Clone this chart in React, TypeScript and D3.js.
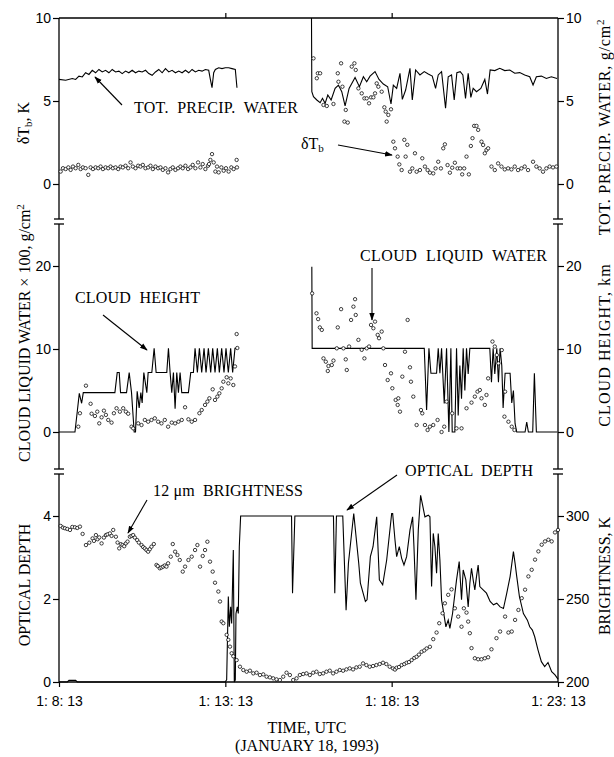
import { useEffect, useRef } from "react";
import * as d3 from "d3";

type P = [number, number];

// time is minutes after 1:08:13 UTC
const timeTicks = [0, 5, 10, 15];
const timeLabels = ["1: 8: 13", "1: 13: 13", "1: 18: 13", "1: 23: 13"];

const topTicks = [0, 5, 10];
const midTicks = [0, 10, 20];
const odTicks = [0, 2, 4];
const tbTicks = [200, 250, 300];

// total precipitable water, g/cm^2 (line, top panel)
const tpwLeft: P[] = [
  [0, 6.3], [0.2, 6.25], [0.4, 6.35], [0.5, 6.3], [0.6, 6.5], [0.7, 6.45], [0.8, 6.7], [0.9, 6.6],
  [1.0, 6.85], [1.1, 6.7], [1.2, 6.9], [1.3, 6.75], [1.4, 6.85], [1.5, 6.7], [1.6, 6.9], [1.7, 6.75],
  [1.8, 6.8], [1.9, 6.65], [2.0, 6.8], [2.1, 6.7], [2.2, 6.85], [2.3, 6.7], [2.4, 6.8], [2.5, 6.75],
  [2.6, 6.85], [2.7, 6.65], [2.8, 6.55], [2.9, 6.75], [3.0, 6.9], [3.1, 6.7], [3.2, 6.95], [3.3, 6.75],
  [3.4, 6.85], [3.5, 6.7], [3.6, 6.8], [3.7, 6.7], [3.8, 6.85], [3.9, 6.7], [4.0, 6.9], [4.1, 6.75],
  [4.2, 6.85], [4.3, 6.8], [4.4, 6.9], [4.5, 6.85], [4.55, 6.3], [4.6, 5.8], [4.65, 6.7], [4.7, 6.9],
  [4.8, 7.0], [4.9, 6.95], [5.0, 7.0], [5.1, 7.0], [5.2, 6.95], [5.3, 6.9], [5.35, 5.8],
];
const tpwRight: P[] = [
  [7.59, 10], [7.6, 5.56], [7.65, 5.26], [7.75, 5.06], [7.85, 4.9], [7.92, 5.16], [8.0, 4.86], [8.08, 5.36],
  [8.18, 5.06], [8.3, 5.76], [8.4, 5.96], [8.5, 5.56], [8.6, 4.7], [8.72, 5.76], [8.9, 6.42], [9.03, 5.86],
  [9.15, 6.46], [9.25, 6.16], [9.35, 6.5], [9.5, 6.77], [9.62, 6.3], [9.75, 6.02], [9.88, 5.86], [9.98, 4.82],
  [10.05, 5.96], [10.15, 5.76], [10.25, 6.67], [10.32, 5.1], [10.42, 5.66], [10.55, 6.97], [10.62, 5.06],
  [10.72, 6.87], [10.85, 6.57], [10.98, 6.77], [11.1, 6.63], [11.22, 6.5], [11.32, 5.76], [11.4, 6.57],
  [11.5, 6.77], [11.62, 4.56], [11.7, 6.46], [11.8, 6.57], [11.88, 5.06], [11.96, 6.71], [12.06, 6.77],
  [12.14, 6.57], [12.22, 5.16], [12.3, 6.67], [12.38, 5.22], [12.45, 5.76], [12.55, 5.56], [12.68, 5.76],
  [12.8, 6.3], [12.88, 5.42], [12.96, 6.87], [13.1, 6.83], [13.25, 6.97], [13.4, 6.83], [13.55, 6.87],
  [13.7, 6.67], [13.85, 6.71], [14.0, 6.57], [14.15, 6.46], [14.25, 5.96], [14.35, 6.46], [14.5, 6.5],
  [14.65, 6.36], [14.8, 6.46], [14.97, 6.36],
];

// delta Tb, K (circles, top panel)
const dtbLeft: P[] = [
  [0.05, 0.75], [0.12, 0.95], [0.2, 0.9], [0.28, 1.0], [0.35, 0.85], [0.42, 1.05], [0.5, 0.95], [0.58, 1.15],
  [0.65, 0.9], [0.72, 1.0], [0.8, 0.95], [0.88, 0.55], [0.95, 1.0], [1.02, 0.9], [1.1, 1.0], [1.18, 0.95],
  [1.25, 1.05], [1.32, 0.9], [1.4, 1.0], [1.48, 0.95], [1.55, 1.05], [1.62, 0.95], [1.7, 1.0], [1.78, 0.9],
  [1.85, 1.05], [1.92, 1.0], [2.0, 1.1], [2.08, 0.95], [2.15, 1.3], [2.22, 1.05], [2.3, 0.95], [2.38, 1.1],
  [2.45, 1.05], [2.52, 1.15], [2.6, 0.95], [2.68, 1.0], [2.75, 1.1], [2.82, 0.9], [2.9, 1.05], [2.98, 0.95],
  [3.05, 1.0], [3.12, 0.85], [3.2, 0.95], [3.28, 0.7], [3.35, 0.9], [3.42, 1.0], [3.5, 0.85], [3.58, 0.95],
  [3.65, 1.05], [3.72, 0.95], [3.8, 1.1], [3.88, 0.9], [3.95, 1.0], [4.02, 1.15], [4.1, 0.95], [4.18, 1.3],
  [4.25, 1.0], [4.32, 1.2], [4.4, 0.9], [4.48, 1.1], [4.51, 1.2], [4.55, 1.45], [4.6, 1.8], [4.65, 1.3],
  [4.7, 0.75], [4.75, 1.05], [4.8, 0.7], [4.88, 1.0], [4.95, 0.8], [5.02, 0.95], [5.1, 0.75], [5.18, 1.0],
  [5.25, 0.9], [5.34, 1.45], [5.35, 1.0],
];
const dtbRight: P[] = [
  [7.65, 7.57], [7.75, 6.37], [7.78, 6.67], [7.85, 6.67], [7.95, 4.76], [8.05, 4.7], [8.25, 4.82], [8.38, 6.67],
  [8.4, 6.16], [8.48, 7.27], [8.52, 5.86], [8.58, 3.76], [8.62, 4.46], [8.68, 3.7], [8.8, 7.07], [8.88, 7.27],
  [8.92, 6.87], [9.0, 5.76], [9.1, 5.46], [9.18, 5.16], [9.25, 5.16], [9.32, 4.86], [9.38, 5.22], [9.45, 5.22],
  [9.5, 5.46], [9.55, 6.06], [9.6, 5.86], [9.7, 5.56], [9.78, 4.62], [9.82, 4.36], [9.85, 3.76], [9.9, 4.16],
  [9.98, 4.5], [10.05, 2.55], [10.1, 2.15], [10.18, 1.65], [10.23, 1.18], [10.3, 0.84], [10.38, 2.66],
  [10.42, 1.65], [10.47, 2.36], [10.55, 0.74], [10.62, 0.94], [10.7, 1.85], [10.75, 0.74], [10.85, 0.84],
  [10.92, 1.55], [11.0, 1.05], [11.08, 0.84], [11.15, 0.68], [11.25, 0.64], [11.32, 0.94], [11.4, 1.34],
  [11.48, 0.94], [11.55, 2.15], [11.6, 2.39], [11.68, 1.14], [11.75, 0.68], [11.82, 0.98], [11.9, 1.28],
  [11.98, 0.94], [12.06, 0.94], [12.12, 0.58], [12.18, 0.94], [12.25, 1.65], [12.32, 0.58], [12.38, 2.29],
  [12.43, 2.76], [12.48, 3.5], [12.55, 3.5], [12.6, 3.26], [12.7, 2.55], [12.75, 2.35], [12.8, 1.85],
  [12.85, 2.05], [12.9, 2.15], [13.0, 1.05], [13.1, 0.84], [13.2, 1.24], [13.3, 1.05], [13.4, 0.88],
  [13.5, 0.94], [13.6, 0.88], [13.7, 1.05], [13.8, 0.84], [13.9, 0.94], [14.0, 1.05], [14.1, 0.84],
  [14.25, 1.34], [14.35, 1.05], [14.45, 0.94], [14.55, 0.74], [14.65, 0.94], [14.75, 1.05], [14.85, 1.0],
  [14.95, 1.05],
];

// cloud height, km (line, middle panel)
const heightLeft: P[] = [
  [0, 0], [0.48, 0], [0.55, 2.5], [0.61, 4.66], [0.68, 3.46], [0.73, 4.74], [1.68, 4.74], [1.75, 7.16],
  [1.81, 7.16], [1.85, 4.74], [2.03, 4.74], [2.11, 7.16], [2.18, 4.74], [2.26, 0], [2.3, 0], [2.35, 4.9],
  [2.41, 2.9], [2.46, 4.74], [2.5, 3.5], [2.55, 7.16], [2.64, 4.74], [2.68, 7.16], [2.79, 7.16], [2.86, 10.08],
  [2.92, 7.16], [3.24, 7.16], [3.29, 10.08], [3.34, 7.16], [3.39, 4.74], [3.44, 7.16], [3.49, 2.8], [3.54, 7.16],
  [3.59, 4.74], [3.64, 7.16], [3.69, 4.74], [3.89, 4.74], [3.96, 7.16], [4.04, 7.16], [4.09, 10.08], [4.16, 7.16],
  [4.22, 10.08], [4.29, 7.16], [4.36, 10.08], [4.42, 7.16], [4.49, 10.08], [4.56, 7.16], [4.62, 10.08],
  [4.69, 7.16], [4.76, 10.08], [4.82, 7.16], [4.89, 10.08], [4.96, 7.16], [5.02, 10.08], [5.09, 7.16],
  [5.16, 10.08], [5.22, 7.16], [5.29, 10.08], [5.36, 10.08],
];
const heightRight: P[] = [
  [7.6, 19.9], [7.61, 10.08], [10.98, 10.08], [11.05, 2.65], [11.12, 10.08], [11.18, 7.07], [11.35, 7.07],
  [11.4, 10.08], [11.45, 7.07], [11.5, 10.08], [11.58, 3.45], [11.65, 10.08], [11.72, 0], [11.78, 10.08],
  [11.82, 0], [11.9, 0], [11.95, 10.08], [12.0, 2], [12.05, 8], [12.1, 4], [12.15, 10.08], [12.2, 5],
  [12.25, 10.08], [12.3, 7], [12.35, 10.08], [12.95, 10.08], [13.0, 6], [13.05, 10.08], [13.1, 7],
  [13.16, 10.08], [13.21, 6], [13.26, 10.08], [13.31, 8], [13.35, 2.9], [13.41, 7.07], [13.56, 7.07],
  [13.61, 3.5], [13.66, 5], [13.71, 1], [13.76, 0], [14.01, 0], [14.06, 1.2], [14.11, 0], [14.24, 0],
  [14.29, 7.07], [14.35, 0], [14.98, 0],
];

// cloud liquid water x 100, g/cm^2 (circles, middle panel)
const clwLeft: P[] = [
  [0.58, 0.64], [0.63, 2.26], [0.81, 5.58], [0.95, 3.4], [0.98, 2.2], [1.08, 1.93], [1.15, 2.45], [1.21, 1.04],
  [1.28, 1.77], [1.35, 2.57], [1.41, 2.06], [1.48, 1.45], [1.58, 1.13], [1.65, 2.26], [1.73, 2.86], [1.83, 2.45],
  [1.93, 2.86], [2.01, 2.45], [2.08, 2.2], [2.18, 0.64], [2.23, 0.44], [2.38, 1.04], [2.48, 0.84], [2.58, 1.45],
  [2.68, 1.24], [2.78, 1.45], [2.88, 1.65], [2.98, 1.24], [3.08, 1.04], [3.18, 1.45], [3.28, 0.64], [3.39, 1.13],
  [3.49, 1.04], [3.59, 1.24], [3.69, 1.45], [3.79, 2.98], [3.89, 1.53], [3.99, 1.24], [4.09, 1.45], [4.22, 2.26],
  [4.29, 2.65], [4.39, 3.26], [4.46, 3.66], [4.52, 4.06], [4.62, 5.14], [4.69, 3.86], [4.76, 4.26], [4.82, 4.66],
  [4.89, 5.26], [4.94, 6.06], [5.04, 6.59], [5.09, 5.86], [5.16, 6.46], [5.24, 5.66], [5.29, 7.9], [5.34, 11.8],
  [5.36, 10.12],
];
const clwRight: P[] = [
  [7.61, 16.7], [7.74, 14.3], [7.79, 13.6], [7.84, 12.6], [7.9, 12.3], [7.95, 8.87], [8.02, 8.47], [8.08, 7.35],
  [8.1, 7.95], [8.2, 8.07], [8.25, 8.6], [8.35, 10.08], [8.38, 12.6], [8.48, 14.8], [8.55, 10.08], [8.62, 8.75],
  [8.65, 7.47], [8.72, 10.3], [8.78, 13.5], [8.85, 15.1], [8.9, 16.0], [8.92, 14.1], [9.0, 11.1], [9.1, 9.9],
  [9.18, 8.87], [9.25, 10.08], [9.32, 10.3], [9.38, 12.9], [9.45, 12.5], [9.5, 13.3], [9.58, 11.7], [9.62, 11.3],
  [9.7, 12.1], [9.75, 10.08], [9.8, 8.07], [9.88, 6.26], [9.98, 7.07], [10.02, 5.27], [10.12, 3.86], [10.18, 3.26],
  [10.2, 4.06], [10.25, 2.45], [10.32, 6.67], [10.4, 9.67], [10.48, 13.5], [10.55, 7.79], [10.58, 6.06],
  [10.65, 4.26], [10.75, 0.84], [10.88, 2.65], [10.92, 2.25], [11.0, 0.84], [11.08, 0.24], [11.15, 0.64],
  [11.25, 0.84], [11.38, 1.45], [11.5, 0.0], [11.58, 0.64], [11.65, 3.66], [11.82, 2.25], [11.95, 0.44],
  [12.1, 0.44], [12.25, 2.86], [12.4, 3.54], [12.5, 4.26], [12.58, 4.86], [12.65, 5.06], [12.7, 4.06],
  [12.8, 3.26], [12.85, 4.46], [12.9, 6.46], [13.03, 10.9], [13.1, 10.3], [13.16, 9.27], [13.21, 8.27],
  [13.31, 9.87], [13.39, 1.85], [13.41, 4.86], [13.51, 1.24], [13.61, 0.64], [13.69, 0.24],
];

// optical depth (line, bottom panel)
const opticalDepth: P[] = [
  [0, 0], [0.25, 0], [0.3, 0.04], [0.5, 0.04], [0.55, 0], [4.99, 0], [5.04, 0.05], [5.09, 2.06], [5.12, 1.33],
  [5.16, 1.81], [5.19, 1.41], [5.22, 2.46], [5.24, 3.18], [5.27, 0], [5.3, 0.05], [5.32, 1.65], [5.36, 1.81],
  [5.39, 1.65], [5.42, 3.26], [5.46, 4.0], [6.99, 4.0], [7.02, 2.14], [7.09, 4.0], [8.25, 4.0], [8.29, 2.14],
  [8.34, 4.0], [8.53, 4.0], [8.63, 1.73], [8.7, 2.86], [8.86, 4.06], [9.01, 2.86], [9.06, 2.38], [9.21, 1.94],
  [9.26, 1.98], [9.36, 3.02], [9.44, 3.26], [9.55, 3.98], [9.63, 2.46], [9.73, 2.34], [9.85, 2.94], [10.0, 4.06],
  [10.03, 4.06], [10.1, 3.42], [10.15, 3.02], [10.23, 3.26], [10.3, 2.98], [10.37, 2.82], [10.45, 3.02],
  [10.55, 3.66], [10.63, 3.98], [10.67, 3.26], [10.73, 1.98], [10.8, 3.66], [10.87, 4.5], [10.93, 4.26],
  [11.0, 3.98], [11.1, 4.02], [11.15, 3.98], [11.2, 2.3], [11.25, 3.58], [11.3, 3.26], [11.35, 2.62],
  [11.4, 3.58], [11.45, 2.94], [11.5, 1.98], [11.55, 1.73], [11.63, 1.33], [11.7, 1.49], [11.75, 1.29],
  [11.83, 1.65], [11.95, 2.46], [12.03, 2.9], [12.1, 1.98], [12.15, 2.7], [12.23, 2.46], [12.3, 1.81],
  [12.35, 2.38], [12.4, 2.74], [12.45, 2.46], [12.5, 2.22], [12.55, 2.54], [12.6, 2.82], [12.65, 2.3],
  [12.75, 2.22], [12.85, 2.14], [12.96, 1.94], [13.06, 1.86], [13.16, 1.9], [13.26, 1.81], [13.36, 1.77],
  [13.46, 2.14], [13.56, 2.54], [13.66, 3.14], [13.71, 2.86], [13.76, 2.54], [13.84, 2.06], [13.96, 1.65],
  [14.08, 1.49], [14.15, 1.33], [14.23, 1.25], [14.3, 1.09], [14.4, 0.77], [14.5, 0.49], [14.6, 0.37],
  [14.7, 0.47], [14.81, 0.25], [14.91, 0.17], [15.0, 0.07],
];

// 12 um brightness temperature, K (circles, bottom panel)
const brightness: P[] = [
  [0.05, 294], [0.12, 293], [0.18, 292.6], [0.25, 292.2], [0.33, 291.6], [0.4, 293.4], [0.48, 293.2],
  [0.55, 292.8], [0.63, 293.6], [0.71, 289.2], [0.81, 282.5], [0.91, 283.9], [1.01, 286.5], [1.05, 285],
  [1.11, 288.5], [1.16, 286], [1.21, 287.1], [1.28, 283.5], [1.35, 287], [1.41, 288.5], [1.46, 289],
  [1.53, 289.5], [1.58, 288], [1.63, 291.6], [1.71, 287.5], [1.76, 284], [1.81, 280.5], [1.86, 283],
  [1.91, 282.5], [1.96, 281.8], [2.01, 283.5], [2.06, 284.6], [2.13, 287.5], [2.18, 288], [2.23, 288.5],
  [2.28, 287], [2.35, 285.5], [2.4, 284], [2.48, 282.5], [2.53, 281.3], [2.58, 280.5], [2.63, 279.5],
  [2.68, 278.5], [2.73, 280], [2.78, 281.5], [2.85, 283.1], [2.93, 270.5], [2.97, 269.8], [3.03, 268.5],
  [3.08, 269], [3.13, 269.5], [3.18, 270.2], [3.23, 269.5], [3.28, 271.5], [3.36, 275.5], [3.42, 283.1],
  [3.49, 278.5], [3.56, 276.5], [3.63, 273.5], [3.72, 266.5], [3.79, 269.5], [3.89, 273.5], [3.99, 275.5],
  [4.09, 279.5], [4.16, 282.5], [4.24, 269.5], [4.32, 275.9], [4.39, 279.5], [4.46, 284.5], [4.54, 272.5],
  [4.62, 266.5], [4.69, 259.8], [4.79, 254.5], [4.84, 248.5], [4.89, 236.4], [4.94, 235.4], [5.04, 228.4],
  [5.09, 225.4], [5.14, 221.3], [5.19, 217.3], [5.24, 215.5], [5.34, 213.2], [5.44, 209.2], [5.54, 207.2],
  [5.64, 206.2], [5.74, 206.8], [5.84, 205.2], [5.94, 205.6], [6.04, 204.2], [6.14, 204.6], [6.24, 203.2],
  [6.34, 202.8], [6.44, 202.2], [6.54, 201.6], [6.64, 201.2], [6.74, 203.2], [6.84, 205.6], [6.94, 204.2],
  [7.04, 201.2], [7.14, 202.2], [7.24, 204.2], [7.34, 204.8], [7.44, 205.2], [7.54, 204.2], [7.64, 205.6],
  [7.74, 206.2], [7.84, 204.8], [7.94, 205.2], [8.04, 206.2], [8.14, 206.8], [8.24, 205.2], [8.34, 206.2],
  [8.44, 207.2], [8.54, 206.8], [8.64, 207.6], [8.74, 208.2], [8.84, 207.6], [8.94, 208.8], [9.04, 209.2],
  [9.14, 211.2], [9.24, 210.2], [9.34, 209.2], [9.44, 209.6], [9.54, 210.2], [9.64, 210.8], [9.74, 211.6],
  [9.84, 210.8], [9.94, 209.2], [10.04, 208.2], [10.1, 207.5], [10.15, 208.6], [10.22, 209], [10.3, 210.2],
  [10.38, 210.8], [10.45, 211.6], [10.52, 212], [10.6, 213.2], [10.68, 214.5], [10.75, 215.2], [10.82, 216.5],
  [10.9, 218.2], [10.98, 219], [11.05, 220.2], [11.15, 221.2], [11.25, 225.8], [11.35, 229.8], [11.43, 235.4],
  [11.53, 241.4], [11.6, 247.4], [11.7, 252.5], [11.8, 255.8], [11.9, 244.4], [12.0, 239.4], [12.1, 233.3],
  [12.17, 244.4], [12.25, 241.8], [12.3, 236.4], [12.35, 229.4], [12.4, 220.4], [12.5, 214.3], [12.6, 213.7],
  [12.7, 213.7], [12.8, 214.3], [12.9, 214.9], [13.0, 219.7], [13.15, 226.4], [13.26, 230.4], [13.41, 239.4],
  [13.51, 229.8], [13.61, 230.4], [13.71, 237.4], [13.81, 243.4], [13.91, 250.5], [14.01, 255.6],
  [14.11, 263.6], [14.21, 267.6], [14.31, 273.7], [14.41, 278.7], [14.51, 282.7], [14.61, 284.7],
  [14.71, 285.7], [14.81, 284.7], [14.91, 290.1], [15.0, 291.6],
];

const serif = "'Liberation Serif', 'Times New Roman', serif";
const tickFont = "'Liberation Sans', Arial, sans-serif";

export default function App() {
  const axesRef = useRef<SVGGElement>(null);

  const x = d3.scaleLinear().domain([0, 15]).range([59, 558]);
  const yTop = d3.scaleLinear().domain([0, 10]).range([184, 18]);
  const yMid = d3.scaleLinear().domain([0, 20]).range([432, 266]);
  const yOd = d3.scaleLinear().domain([0, 4]).range([682, 516]);
  const yTb = d3.scaleLinear().domain([200, 300]).range([682, 516]);

  // axis pieces between the two breaks
  const segs = [[18, 219], [224, 469], [474, 682]];
  const breaks = [219, 224, 469, 474];

  useEffect(() => {
    const g = d3.select(axesRef.current);
    g.selectAll("*").remove();
    const tidy = (sel: any) => {
      sel.select(".domain").remove();
      sel.selectAll("line").attr("stroke", "#000").attr("stroke-width", 1.2);
      sel.selectAll("text")
        .attr("font-family", tickFont)
        .attr("font-size", 14)
        .attr("fill", "#000");
    };
    const fmt = d3.format("d");
    const leftAxes: [any, number[]][] = [[yTop, topTicks], [yMid, midTicks], [yOd, odTicks]];
    leftAxes.forEach(([s, t]) => {
      g.append("g").attr("transform", `translate(${x(0)},0)`)
        .call(d3.axisLeft(s).tickValues(t).tickSize(6).tickPadding(2).tickFormat(fmt as any)).call(tidy);
    });
    const rightAxes: [any, number[]][] = [[yTop, topTicks], [yMid, midTicks], [yTb, tbTicks]];
    rightAxes.forEach(([s, t]) => {
      g.append("g").attr("transform", `translate(${x(15)},0)`)
        .call(d3.axisRight(s).tickValues(t).tickSize(6).tickPadding(2).tickFormat(fmt as any)).call(tidy);
    });
    g.append("g").attr("transform", `translate(0,${yOd(0)})`)
      .call(d3.axisBottom(x).tickValues(timeTicks).tickSize(5).tickPadding(9)
        .tickFormat((_d, i) => timeLabels[i]))
      .call(tidy);
    g.append("g").attr("transform", `translate(0,${yTop(10)})`)
      .call(d3.axisTop(x).tickValues(timeTicks.slice(1, 3)).tickSize(5).tickFormat(() => ""))
      .call(tidy);
  }, []);

  const line = (ys: any) => d3.line<P>().x(d => x(d[0])).y(d => ys(d[1]));
  const dots = (data: P[], ys: any, key: string) =>
    data.map((d, i) => (
      <circle key={key + i} cx={x(d[0])} cy={ys(d[1])} r={1.7} fill="#fff" stroke="#000" strokeWidth={0.75} />
    ));

  const annText = { fontFamily: serif, fontSize: 16, fill: "#000", whiteSpace: "pre" as const };
  const arrows = [
    [122, 105, 95, 77],
    [338, 145, 392, 155],
    [103, 315, 147, 350],
    [372, 268, 372, 320],
    [147, 500, 128, 533],
    [397, 475, 347, 510],
  ];

  return (
    <div style={{ position: "absolute", left: 0, top: 0, background: "#fff" }}>
      <svg width={614} height={757} style={{ display: "block" }}>
        <defs>
          <marker id="ah" viewBox="0 0 10 10" refX="9" refY="5" markerWidth="7" markerHeight="7" orient="auto">
            <path d="M0,1.5 L10,5 L0,8.5 Z" fill="#000" />
          </marker>
        </defs>
        <rect width={614} height={757} fill="#fff" />

        {/* frame */}
        <line x1={x(0)} x2={x(15)} y1={yTop(10)} y2={yTop(10)} stroke="#000" strokeWidth={1.3} />
        <line x1={x(0)} x2={x(15)} y1={yOd(0)} y2={yOd(0)} stroke="#000" strokeWidth={1.3} />
        {[x(0), x(15)].map(px => (
          <g key={"ax" + px}>
            {segs.map(([a, b]) => (
              <line key={a} x1={px} x2={px} y1={a} y2={b} stroke="#000" strokeWidth={1.3} />
            ))}
            {breaks.map(b => (
              <line key={"b" + b} x1={px - 5} x2={px + 5} y1={b} y2={b} stroke="#000" strokeWidth={1.3} />
            ))}
          </g>
        ))}
        <g ref={axesRef} />

        {/* top panel */}
        <path d={line(yTop)(tpwLeft) ?? ""} fill="none" stroke="#000" strokeWidth={1.1} />
        <path d={line(yTop)(tpwRight) ?? ""} fill="none" stroke="#000" strokeWidth={1.1} />
        {dots(dtbLeft, yTop, "dl")}
        {dots(dtbRight, yTop, "dr")}

        {/* middle panel */}
        <path d={line(yMid)(heightLeft) ?? ""} fill="none" stroke="#000" strokeWidth={1.1} />
        <path d={line(yMid)(heightRight) ?? ""} fill="none" stroke="#000" strokeWidth={1.1} />
        {dots(clwLeft, yMid, "cl")}
        {dots(clwRight, yMid, "cr")}

        {/* bottom panel */}
        <path d={line(yOd)(opticalDepth) ?? ""} fill="none" stroke="#000" strokeWidth={1.1} />
        {dots(brightness, yTb, "tb")}

        {/* annotations */}
        {arrows.map(([x1, y1, x2, y2], i) => (
          <line key={"ar" + i} x1={x1} y1={y1} x2={x2} y2={y2} stroke="#000" strokeWidth={1.1} markerEnd="url(#ah)" />
        ))}
        <text x={134} y={113} style={annText} textLength={164}>{"TOT.  PRECIP.  WATER"}</text>
        <text x={301} y={149} style={annText}>δT<tspan fontSize={11} dy={3}>b</tspan></text>
        <text x={75} y={303} style={annText} textLength={125}>{"CLOUD  HEIGHT"}</text>
        <text x={360} y={261} style={annText} textLength={187}>{"CLOUD  LIQUID  WATER"}</text>
        <text x={153} y={496} style={annText} textLength={150}>{"12 μm  BRIGHTNESS"}</text>
        <text x={405} y={476} style={annText} textLength={128}>{"OPTICAL  DEPTH"}</text>

        {/* axis titles */}
        <g style={{ fontFamily: serif, fontSize: 16, fill: "#000", whiteSpace: "pre" }}>
          <text transform="translate(29,123) rotate(-90)" textAnchor="middle">
            δT<tspan fontSize={11} dy={3}>b</tspan><tspan dy={-3}>, K</tspan>
          </text>
          <text transform="translate(30,333) rotate(-90)" textAnchor="middle">
            {"CLOUD LIQUID WATER × 100, g/cm"}<tspan fontSize={11} dy={-6}>2</tspan>
          </text>
          <text transform="translate(30,585) rotate(-90)" textAnchor="middle">{"OPTICAL  DEPTH"}</text>
          <text transform="translate(610,127) rotate(-90)" textAnchor="middle" style={{ letterSpacing: 0.8 }}>
            {"TOT.  PRECIP.  WATER,  g/cm"}<tspan fontSize={11} dy={-6}>2</tspan>
          </text>
          <text transform="translate(610,345) rotate(-90)" textAnchor="middle" style={{ letterSpacing: 1.1 }}>
            {"CLOUD  HEIGHT,  km"}
          </text>
          <text transform="translate(610,576) rotate(-90)" textAnchor="middle">{"BRIGHTNESS,  K"}</text>
          <text x={307} y={733} textAnchor="middle">{"TIME,  UTC"}</text>
          <text x={307} y={751} textAnchor="middle">(JANUARY 18, 1993)</text>
        </g>
      </svg>
    </div>
  );
}
